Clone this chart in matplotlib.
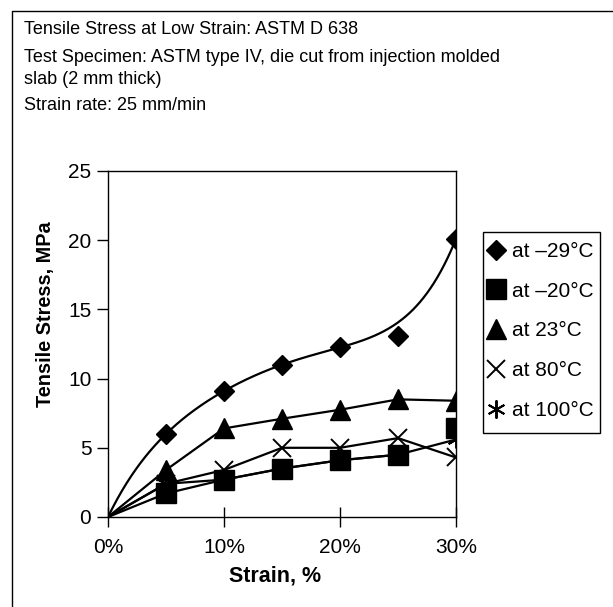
import numpy as np
import matplotlib
matplotlib.use("Agg")
import matplotlib.pyplot as plt
from matplotlib.lines import Line2D
from matplotlib.patches import Rectangle

plt.rcParams['font.family'] = ['Liberation Sans', 'DejaVu Sans']

# Strain levels (%) and tensile stress (MPa) per test temperature
strain = [5, 10, 15, 20, 25, 30]
stress_m29 = [6.0, 9.1, 11.0, 12.25, 13.1, 20.1]
stress_m20 = [1.7, 2.7, 3.5, 4.1, 4.5, 6.4]
stress_23 = [3.4, 6.4, 7.1, 7.75, 8.5, 8.4]
stress_80 = [2.4, 3.4, 5.0, 5.0, 5.7, 4.3]
stress_100 = [2.4, 2.7, 3.5, 4.1, 4.5, 5.6]

# the -29 C reading at this strain is left out of that series' trend curve
m29_trend_outlier = 25

labels = ["at \u201329\u00b0C", "at \u201320\u00b0C", "at 23\u00b0C", "at 80\u00b0C", "at 100\u00b0C"]
xtick_labels = ["0%", "10%", "20%", "30%"]
ytick_values = [0, 5, 10, 15, 20, 25]

header_lines = [
    "Tensile Stress at Low Strain: ASTM D 638",
    "Test Specimen: ASTM type IV, die cut from injection molded",
    "slab (2 mm thick)",
    "Strain rate: 25 mm/min",
]

W, H = 613, 607
fig = plt.figure(figsize=(W / 100, H / 100), dpi=100)
ax = fig.add_axes([108 / W, 1 - 517 / H, 348 / W, 346 / H])

lw = 1.6
FS_HEAD = 13
FS = 15

def with_origin(vals):
    return [0] + list(vals)

xs = with_origin(strain)

# -29 C: polynomial trend curve through the origin
fit_x = [x for x in xs if x != m29_trend_outlier]
fit_y = [y for x, y in zip(xs, with_origin(stress_m29)) if x != m29_trend_outlier]
coef = np.polyfit(fit_x, fit_y, len(fit_x) - 1)
xfine = np.linspace(0, 30, 300)
ax.plot(xfine, np.polyval(coef, xfine), color='black', lw=lw, zorder=2)

# connecting lines for the other temperatures
ax.plot(xs, with_origin(stress_23), color='black', lw=lw, zorder=2)
ax.plot(xs, with_origin(stress_80), color='black', lw=lw, zorder=2)
ax.plot(xs, with_origin(stress_100), color='black', lw=lw, zorder=2)
ax.plot(xs[:-1], with_origin(stress_m20)[:-1], color='black', lw=lw, zorder=2)

# markers
ax.plot(strain, stress_100, ls='none', marker=(6, 2, 0), ms=13, mew=1.4, color='black', zorder=3)
ax.plot(strain, stress_80, ls='none', marker='x', ms=13, mew=1.4, color='black', zorder=3)
ax.plot(strain, stress_23, ls='none', marker='^', ms=14, color='black', zorder=4)
ax.plot(strain, stress_m20, ls='none', marker='s', ms=14, color='black', zorder=4)
ax.plot(strain, stress_m29, ls='none', marker='D', ms=10.5, color='black', zorder=4)

ax.set_xlim(0, 30)
ax.set_ylim(0, 25)
ax.set_xticks([0, 10, 20, 30])
ax.set_xticklabels(xtick_labels, fontsize=FS)
ax.set_yticks(ytick_values)
ax.set_yticklabels([str(v) for v in ytick_values], fontsize=FS)
ax.tick_params(axis='x', direction='inout', length=14, width=1, pad=8)
ax.tick_params(axis='y', direction='out', length=8, width=1, pad=4)
for s in ax.spines.values():
    s.set_linewidth(1)
    s.set_color('black')

ax.set_xlabel("Strain, %", fontsize=15.5, fontweight='bold')
ax.xaxis.set_label_coords((275 - 108) / 348, (517 - 576) / 346)
ax.xaxis.label.set_va('center')
ax.set_ylabel("Tensile Stress, MPa", fontsize=14.3, fontweight='bold')
ax.yaxis.set_label_coords((46 - 108) / 348, (517 - 314) / 346)
ax.yaxis.label.set_va('center')

handles = [
    Line2D([], [], ls='none', marker='D', ms=10.5, color='black'),
    Line2D([], [], ls='none', marker='s', ms=14, color='black'),
    Line2D([], [], ls='none', marker='^', ms=14, color='black'),
    Line2D([], [], ls='none', marker='x', ms=13, mew=1.4, color='black'),
    Line2D([], [], ls='none', marker=(6, 2, 0), ms=13, mew=1.4, color='black'),
]
leg = fig.legend(handles, labels, loc='center left',
                 bbox_to_anchor=(487 / W, 1 - 331 / H), bbox_transform=fig.transFigure,
                 fontsize=FS, frameon=False, borderaxespad=0, borderpad=0,
                 handlelength=0.9, handletextpad=0.3, labelspacing=1.0)
# legend border
fig.add_artist(Rectangle((483 / W, 1 - 433 / H), (600 - 483) / W, (433 - 232) / H,
                         transform=fig.transFigure, fill=False, edgecolor='black', lw=1))

# header text
ys = [30, 57, 80, 105]
for txt, y in zip(header_lines, ys):
    fig.text(24 / W, 1 - y / H, txt, fontsize=FS_HEAD, va='center', ha='left')

# outer frame (left and top edges)
fig.add_artist(Line2D([12 / W, 12 / W, 1.0], [0.0, 1 - 11 / H, 1 - 11 / H],
                      transform=fig.transFigure, color='black', lw=1))

fig.savefig("out.png", dpi=100)
